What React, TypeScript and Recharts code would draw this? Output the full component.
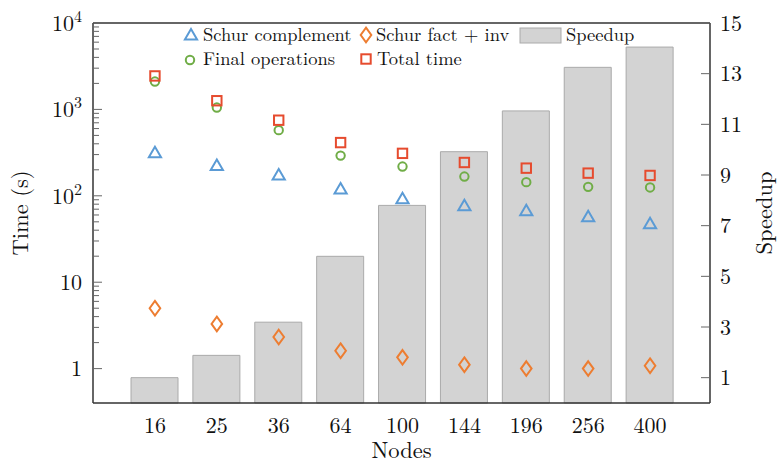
import React from 'react';
import { ComposedChart, Bar, Scatter, XAxis, YAxis, ReferenceLine, Label } from 'recharts';

const nodes = ['16', '25', '36', '64', '100', '144', '196', '256', '400'];
const schurComplement = [306, 219, 170, 117, 90, 74.6, 65.3, 55.7, 46.2];
const schurFactInv = [5.0, 3.29, 2.32, 1.61, 1.35, 1.11, 1.0, 1.0, 1.08];
const finalOperations = [2100, 1050, 575, 292, 218, 167, 144, 127, 125];
const totalTime = [2440, 1260, 750, 413, 310, 243, 209, 183, 172];
const speedup = [1.0, 1.88, 3.19, 5.79, 7.8, 9.92, 11.53, 13.25, 14.05];

const timeDecades = [1, 10, 100, 1000, 10000];
const timeDecadeLabels = ['1', '10', '10|2', '10|3', '10|4'];
const minorSteps = [2, 3, 4, 5, 6, 7, 8, 9];
const speedupTicks = [1, 3, 5, 7, 9, 11, 13, 15];

const timeTicks = [
  ...timeDecades,
  ...timeDecades.slice(0, -1).flatMap((d) => minorSteps.map((m) => d * m)),
].sort((a, b) => a - b);

const data = nodes.map((n, i) => ({
  nodes: n,
  schur: schurComplement[i],
  fact: schurFactInv[i],
  final: finalOperations[i],
  total: totalTime[i],
  speedup: speedup[i],
}));

const FONT = '"Latin Modern Roman", "Liberation Serif", serif';
const BLUE = '#5b9bd5';
const ORANGE = '#ed7d31';
const GREEN = '#70ad47';
const RED = '#e64b2e';
const AXIS = '#333';
const TEXT = '#111';

const triangle = (cx: number, cy: number, color: string) => (
  <path
    d={`M${cx},${cy - 7} L${cx + 6.1},${cy + 3.5} L${cx - 6.1},${cy + 3.5} Z`}
    fill="none" stroke={color} strokeWidth={2} strokeLinejoin="miter"
  />
);
const diamond = (cx: number, cy: number, color: string) => (
  <path
    d={`M${cx},${cy - 7.3} L${cx + 5.3},${cy} L${cx},${cy + 7.3} L${cx - 5.3},${cy} Z`}
    fill="none" stroke={color} strokeWidth={2}
  />
);
const circle = (cx: number, cy: number, color: string) => (
  <circle cx={cx} cy={cy} r={4.2} fill="none" stroke={color} strokeWidth={2} />
);
const square = (cx: number, cy: number, color: string) => (
  <rect x={cx - 4.7} y={cy - 4.7} width={9.4} height={9.4} fill="none" stroke={color} strokeWidth={2} />
);

const tickStyle = { fontFamily: FONT, fontSize: 22, fill: TEXT };
const labelStyle = { fontFamily: FONT, fontSize: 22.5, fill: TEXT };

const LeftTick = (props: any) => {
  const { x, y, payload } = props;
  const idx = timeDecades.indexOf(payload.value);
  const ax = x + 11;
  let label = null;
  if (idx >= 0) {
    const [base, exp] = timeDecadeLabels[idx].split('|');
    label = (
      <text x={x} y={y} dy="0.35em" textAnchor="end" style={tickStyle}>
        {base}
        {exp && <tspan dy={-9} style={{ fontSize: 16 }}>{exp}</tspan>}
      </text>
    );
  }
  return (
    <g>
      <line x1={ax} x2={ax + (idx >= 0 ? 9 : 6)} y1={y} y2={y} stroke="#666" strokeWidth={1} />
      {label}
    </g>
  );
};

const RightTick = (props: any) => {
  const { x, y, payload } = props;
  const ax = x - 10;
  return (
    <g>
      <line x1={ax} x2={ax - 9} y1={y} y2={y} stroke="#666" strokeWidth={1} />
      <text x={x} y={y} dy="0.35em" textAnchor="start" style={tickStyle}>
        {payload.value}
      </text>
    </g>
  );
};

const BottomTick = (props: any) => {
  const { x, y, payload } = props;
  return (
    <text x={x} y={y} dy="0.75em" textAnchor="middle" style={tickStyle}>
      {payload.value}
    </text>
  );
};

const legendFont = { fontFamily: FONT, fontSize: 18.5, fill: TEXT };

const ChartLegend = () => (
  <svg width={781} height={80} style={{ position: 'absolute', left: 0, top: 0, pointerEvents: 'none' }}>
    {triangle(191, 36, BLUE)}
    <text x={203} y={41} style={legendFont}>Schur complement</text>
    {diamond(366, 35, ORANGE)}
    <text x={376} y={41} style={legendFont}>Schur fact + inv</text>
    <rect x={520} y={28} width={41} height={15} fill="#d3d3d3" stroke="#aaa" strokeWidth={1} />
    <text x={566} y={41} style={legendFont}>Speedup</text>
    {circle(190, 60, GREEN)}
    <text x={203} y={65} style={legendFont}>Final operations</text>
    {square(366, 59, RED)}
    <text x={377} y={65} style={legendFont}>Total time</text>
  </svg>
);

export default function App() {
  return (
    <div style={{ position: 'absolute', left: 0, top: 0, width: 781, height: 463, background: '#fff', fontFamily: FONT }}>
      <ComposedChart
        width={781}
        height={463}
        data={data}
        margin={{ top: 23, right: 0, bottom: 0, left: 0 }}
        barCategoryGap={0}
      >
        <XAxis
          dataKey="nodes"
          type="category"
          height={60}
          padding={{ left: 31, right: 29 }}
          tickLine={false}
          tickSize={0}
          tickMargin={13}
          interval={0}
          axisLine={{ stroke: AXIS, strokeWidth: 1.5 }}
          tick={<BottomTick />}
        >
          <Label value="Nodes" position="insideBottom" offset={5} style={labelStyle} />
        </XAxis>
        <YAxis
          yAxisId="left"
          orientation="left"
          width={93}
          scale="log"
          domain={[0.4, 10000]}
          allowDataOverflow
          ticks={timeTicks}
          interval={0}
          tickLine={false}
          tickSize={0}
          tickMargin={11}
          axisLine={{ stroke: AXIS, strokeWidth: 1.5 }}
          tick={<LeftTick />}
        >
          <Label value="Time (s)" position="center" angle={-90} dx={-26} style={labelStyle} />
        </YAxis>
        <YAxis
          yAxisId="right"
          orientation="right"
          width={71}
          domain={[0, 15]}
          ticks={speedupTicks}
          interval={0}
          tickLine={false}
          tickSize={0}
          tickMargin={10}
          axisLine={{ stroke: AXIS, strokeWidth: 1.5 }}
          tick={<RightTick />}
        >
          <Label value="Speedup" position="center" angle={-90} dx={19} style={labelStyle} />
        </YAxis>
        <ReferenceLine yAxisId="left" y={10000} stroke={AXIS} strokeWidth={1.5} ifOverflow="extendDomain" />
        <Bar yAxisId="right" dataKey="speedup" barSize={47} fill="#d3d3d3" stroke="#aaa" strokeWidth={1} isAnimationActive={false} />
        <Scatter yAxisId="left" dataKey="schur" isAnimationActive={false} shape={(p: any) => triangle(p.cx, p.cy, BLUE)} />
        <Scatter yAxisId="left" dataKey="fact" isAnimationActive={false} shape={(p: any) => diamond(p.cx, p.cy, ORANGE)} />
        <Scatter yAxisId="left" dataKey="final" isAnimationActive={false} shape={(p: any) => circle(p.cx, p.cy, GREEN)} />
        <Scatter yAxisId="left" dataKey="total" isAnimationActive={false} shape={(p: any) => square(p.cx, p.cy, RED)} />
      </ComposedChart>
      <ChartLegend />
    </div>
  );
}
